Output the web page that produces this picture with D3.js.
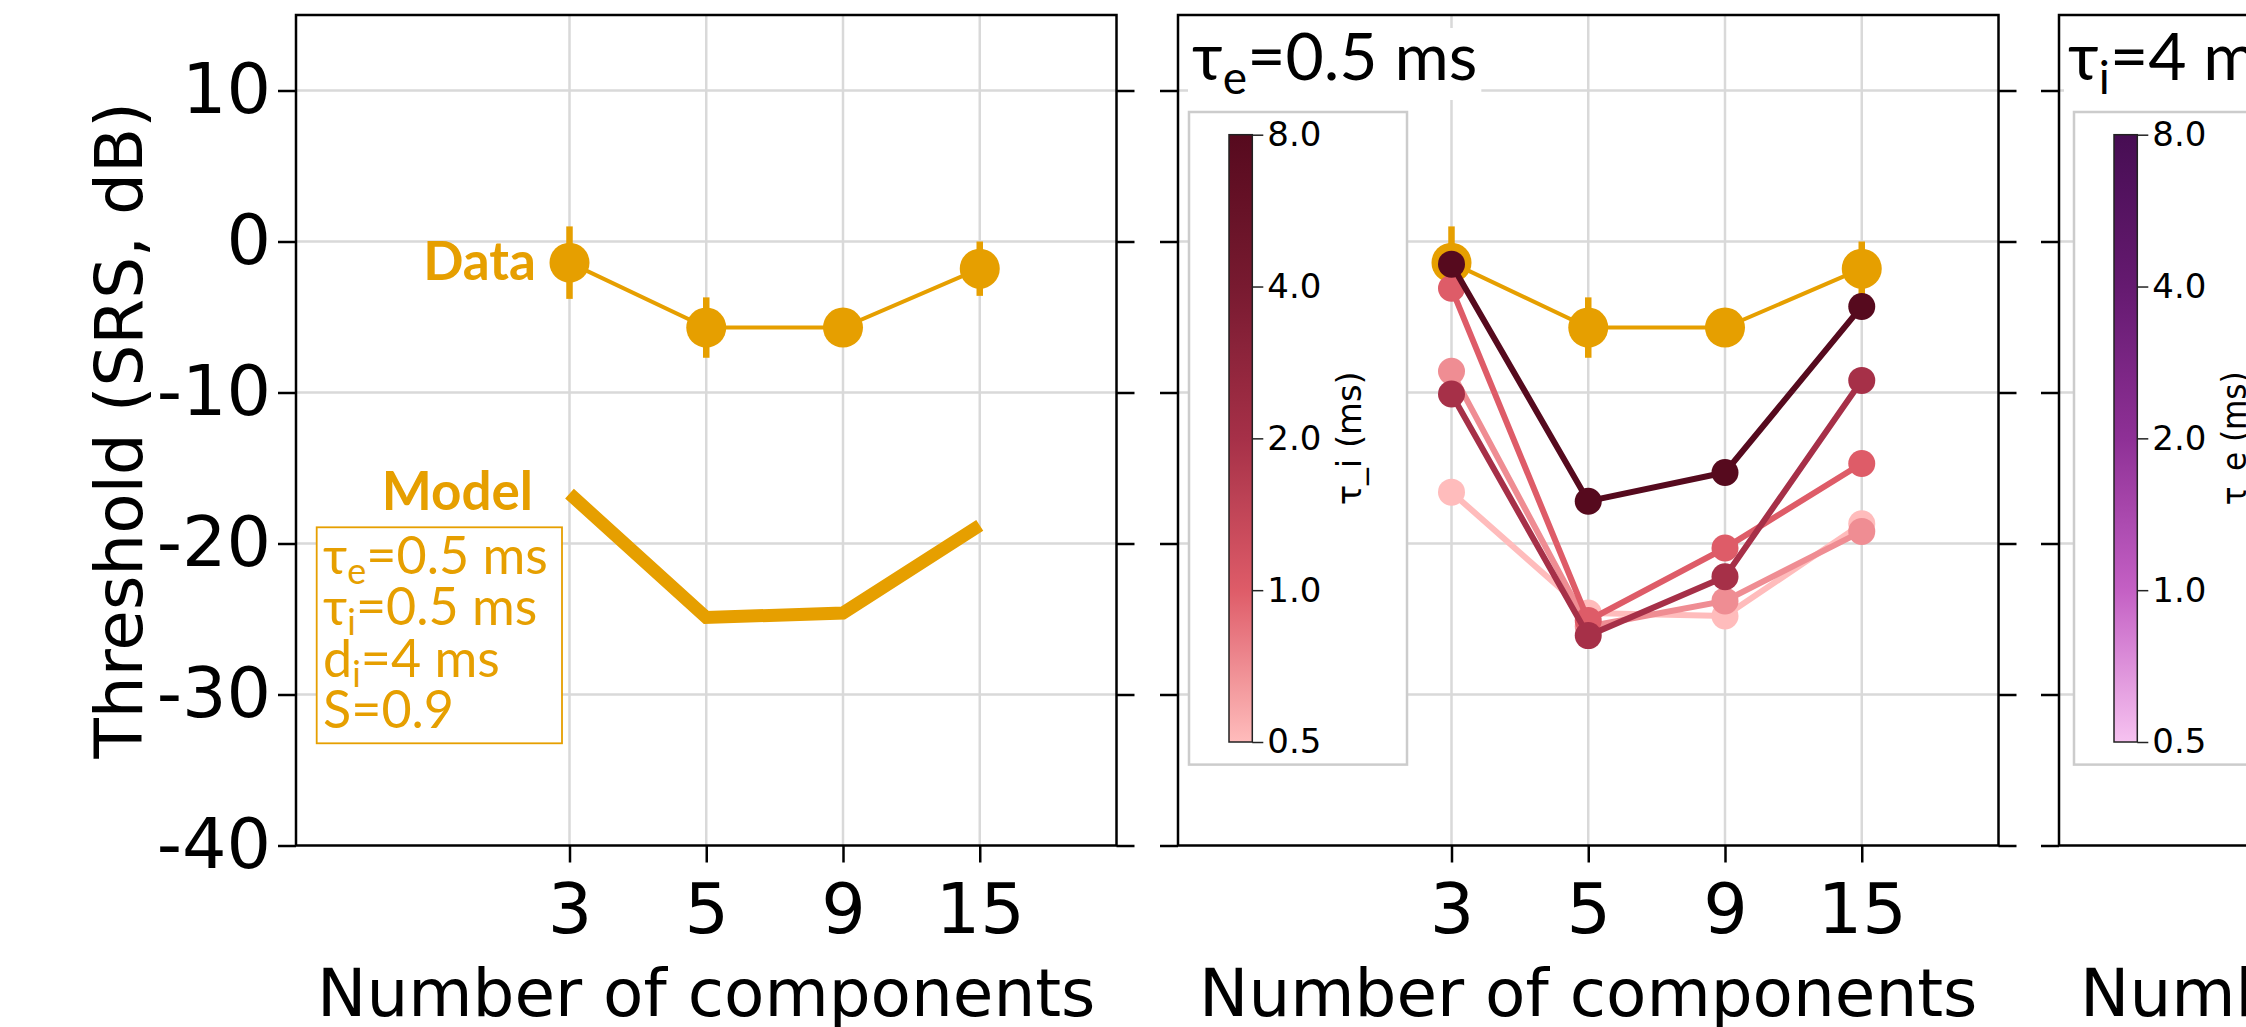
<!DOCTYPE html>
<html>
<head>
<meta charset="utf-8">
<script src="https://cdn.jsdelivr.net/npm/d3@7"></script>
<style>
  body { margin: 0; background: #fff; }
  svg { display: block; }
</style>
</head>
<body>
<svg id="chart" width="2246" height="1027"></svg>
<script>
// ---- data ----
const components = ["3", "5", "9", "15"];
const yTicks = [10, 0, -10, -20, -30, -40];
const cbTicks = [0.5, 1, 2, 4, 8];

const dataThreshold = [-1.4, -5.7, -5.7, -1.8];
const dataError = [2.4, 2.0, 1.0, 1.8];
const modelThreshold = [-16.7, -24.9, -24.6, -18.8];

// tau_i sweep at tau_e = 0.5 ms (panel 2)
const tauI = [0.5, 0.7, 1, 2, 8];
const tauISeries = [
  [-16.6, -24.6, -24.8, -18.7],
  [-8.6, -25.5, -23.8, -19.2],
  [-3.1, -25.1, -20.3, -14.7],
  [-10.1, -26.1, -22.2, -9.2],
  [-1.5, -17.2, -15.3, -4.3]
];

const redStops = ["#ffbcbc", "#de5c68", "#a63048", "#781a30", "#560a1e"];
const purpleStops = ["#f6c2f0", "#c460c4", "#8e3096", "#651a70", "#470d53"];

const orange = "#E69F00";

// ---- layout ----
const panelLeft = [296, 1178, 2059];
const panelW = 820.5, plotTop = 15, plotBottom = 845.5;

const svg = d3.select("#chart");
const defs = svg.append("defs");

const x = d3.scaleLinear().domain([-2, 4]).range([0, panelW]);
const y = d3.scaleLinear().domain([-40, 15]).range([plotBottom, plotTop]);

const line = d3.line().x((d, i) => x(i)).y(d => y(d));

function drawFrame(g, showLabels) {
  // grid
  g.append("g").selectAll("line").data(yTicks.slice(0, -1)).join("line")
    .attr("x1", 0).attr("x2", panelW)
    .attr("y1", d => y(d)).attr("y2", d => y(d))
    .attr("stroke", "#d9d9d9").attr("stroke-width", 2.5);
  g.append("g").selectAll("line").data(components).join("line")
    .attr("x1", (d, i) => x(i)).attr("x2", (d, i) => x(i))
    .attr("y1", plotTop).attr("y2", plotBottom)
    .attr("stroke", "#d9d9d9").attr("stroke-width", 2.5);

  const left = g.append("g")
    .call(d3.axisLeft(y).tickValues(yTicks).tickSize(18).tickPadding(7)
      .tickFormat(d => showLabels ? String(d) : ""));
  const right = g.append("g").attr("transform", `translate(${panelW},0)`)
    .call(d3.axisRight(y).tickValues(yTicks).tickSize(18).tickFormat(""));
  const bot = g.append("g").attr("transform", `translate(0,${plotBottom})`)
    .call(d3.axisBottom(x).tickValues([0, 1, 2, 3]).tickSize(17).tickPadding(21)
      .tickFormat(i => components[i]));

  [left, right, bot].forEach(a => {
    a.select(".domain").remove();
    a.selectAll(".tick line").attr("stroke", "#000").attr("stroke-width", 2.5);
    a.selectAll(".tick text").attr("fill", "#000")
      .style("font-family", "'DejaVu Sans'").style("font-size", "70px");
  });

  g.append("text")
    .attr("x", panelW / 2).attr("y", 1016)
    .attr("text-anchor", "middle")
    .style("font-family", "'DejaVu Sans'").style("font-size", "66px")
    .text("Number of components");
}

function drawBorder(g) {
  g.append("rect").attr("x", 0).attr("y", plotTop)
    .attr("width", panelW).attr("height", plotBottom - plotTop)
    .attr("fill", "none").attr("stroke", "#000").attr("stroke-width", 2.5);
}

function drawData(g) {
  g.append("g").selectAll("line").data(dataThreshold).join("line")
    .attr("x1", (d, i) => x(i)).attr("x2", (d, i) => x(i))
    .attr("y1", (d, i) => y(d + dataError[i])).attr("y2", (d, i) => y(d - dataError[i]))
    .attr("stroke", orange).attr("stroke-width", 6.5);
  g.append("path").datum(dataThreshold)
    .attr("d", line).attr("fill", "none")
    .attr("stroke", orange).attr("stroke-width", 4);
  g.append("g").selectAll("circle").data(dataThreshold).join("circle")
    .attr("cx", (d, i) => x(i)).attr("cy", d => y(d)).attr("r", 20)
    .attr("fill", orange);
}

function drawTitle(g, dx, sub, rest) {
  const bg = g.append("rect").attr("fill", "#fff");
  const t = g.append("text")
    .attr("x", dx).attr("y", 80)
    .style("font-family", "Lato, 'DejaVu Sans'").style("font-size", "66px");
  t.append("tspan").text("τ");
  t.append("tspan").attr("dy", 14).style("font-size", "46px").text(sub);
  t.append("tspan").attr("dy", -14).text(rest);
  const bb = t.node().getBBox();
  bg.attr("x", bb.x - 4).attr("y", 28)
    .attr("width", bb.width + 8).attr("height", 72);
}

function drawColorbar(g, dx, stops, label, gradId) {
  const boxX = dx, boxY = 112, boxW = 218, boxH = 652.6;
  g.append("rect").attr("x", boxX).attr("y", boxY)
    .attr("width", boxW).attr("height", boxH)
    .attr("fill", "#fff").attr("stroke", "#cccccc").attr("stroke-width", 2.5);

  const cbX = dx + 40, cbW = 23.3;
  const cy = d3.scaleLog().base(2).domain([0.5, 8]).range([742, 134.7]);
  const color = d3.scaleLog().base(2).domain(cbTicks).range(stops);

  const grad = defs.append("linearGradient")
    .attr("id", gradId).attr("x1", 0).attr("y1", 1).attr("x2", 0).attr("y2", 0);
  grad.selectAll("stop").data(d3.range(0, 1.0001, 0.05)).join("stop")
    .attr("offset", d => d)
    .attr("stop-color", d => color(0.5 * Math.pow(2, 4 * d)));

  g.append("rect").attr("x", cbX).attr("y", cy(8))
    .attr("width", cbW).attr("height", cy(0.5) - cy(8))
    .attr("fill", `url(#${gradId})`).attr("stroke", "#222").attr("stroke-width", 1.5);

  const ax = g.append("g").attr("transform", `translate(${cbX + cbW},0)`)
    .call(d3.axisRight(cy).tickValues(cbTicks).tickSize(11).tickPadding(4)
      .tickFormat(d3.format(".1f")));
  ax.select(".domain").remove();
  ax.selectAll(".tick line").attr("stroke", "#222").attr("stroke-width", 1.5);
  ax.selectAll(".tick text").attr("fill", "#000")
    .style("font-family", "'DejaVu Sans'").style("font-size", "34px");

  // the label in the reference is drawn wide along its length
  g.append("text")
    .attr("transform", `translate(${dx + 160},${(cy(8) + cy(0.5)) / 2}) rotate(-90)`)
    .attr("text-anchor", "middle").attr("dy", "0.35em")
    .attr("textLength", 134).attr("lengthAdjust", "spacingAndGlyphs")
    .style("font-family", "'DejaVu Sans'").style("font-size", "33px")
    .text(label);
  return color;
}

// ---- panel 1 ----
const g1 = svg.append("g").attr("transform", `translate(${panelLeft[0]},0)`);
drawFrame(g1, true);
drawData(g1);
g1.append("path").datum(modelThreshold)
  .attr("d", line).attr("fill", "none")
  .attr("stroke", orange).attr("stroke-width", 13);

g1.append("text").attr("x", 240).attr("y", 280).attr("text-anchor", "end")
  .attr("fill", orange).style("font-family", "Lato").style("font-weight", "bold")
  .style("font-size", "53px").text("Data");
g1.append("text").attr("x", 237).attr("y", 510).attr("text-anchor", "end")
  .attr("fill", orange).style("font-family", "Lato").style("font-weight", "bold")
  .style("font-size", "53px").text("Model");

g1.append("rect").attr("x", 20.7).attr("y", 527.3).attr("width", 245.3).attr("height", 216)
  .attr("fill", "#fff").attr("stroke", orange).attr("stroke-width", 1.8);
const boxLines = [["τ", "e", "=0.5 ms"], ["τ", "i", "=0.5 ms"], ["d", "i", "=4 ms"], ["S", "", "=0.9"]];
boxLines.forEach((ln, k) => {
  const t = g1.append("text").attr("x", 27).attr("y", 574 + k * 51.4)
    .attr("fill", orange).style("font-family", "Lato, 'DejaVu Sans'").style("font-size", "52px");
  t.append("tspan").text(ln[0]);
  if (ln[1]) t.append("tspan").attr("dy", 10).style("font-size", "36px").text(ln[1]);
  t.append("tspan").attr("dy", ln[1] ? -10 : 0).text(ln[2]);
});
drawBorder(g1);

// ---- panel 2 ----
const g2 = svg.append("g").attr("transform", `translate(${panelLeft[1]},0)`);
drawFrame(g2, false);
const redColor = drawColorbar(g2, 11, redStops, "τ_i (ms)", "gradRed");
drawData(g2);
tauISeries.forEach((s, k) => {
  const c = redColor(tauI[k]);
  g2.append("path").datum(s).attr("d", line).attr("fill", "none")
    .attr("stroke", c).attr("stroke-width", 6);
  g2.append("g").selectAll("circle").data(s).join("circle")
    .attr("cx", (d, i) => x(i)).attr("cy", d => y(d)).attr("r", 13.5)
    .attr("fill", c);
});
drawTitle(g2, 14, "e", "=0.5 ms");
drawBorder(g2);

// ---- panel 3 ----
const g3 = svg.append("g").attr("transform", `translate(${panelLeft[2]},0)`);
drawFrame(g3, false);
drawColorbar(g3, 15, purpleStops, "τ_e (ms)", "gradPurple");
drawTitle(g3, 9, "i", "=4 ms");
drawBorder(g3);

// y label
svg.append("text")
  .attr("transform", `translate(142,${(plotTop + plotBottom) / 2}) rotate(-90)`)
  .attr("text-anchor", "middle")
  .style("font-family", "'DejaVu Sans'").style("font-size", "66px")
  .text("Threshold (SRS, dB)");
</script>
</body>
</html>
